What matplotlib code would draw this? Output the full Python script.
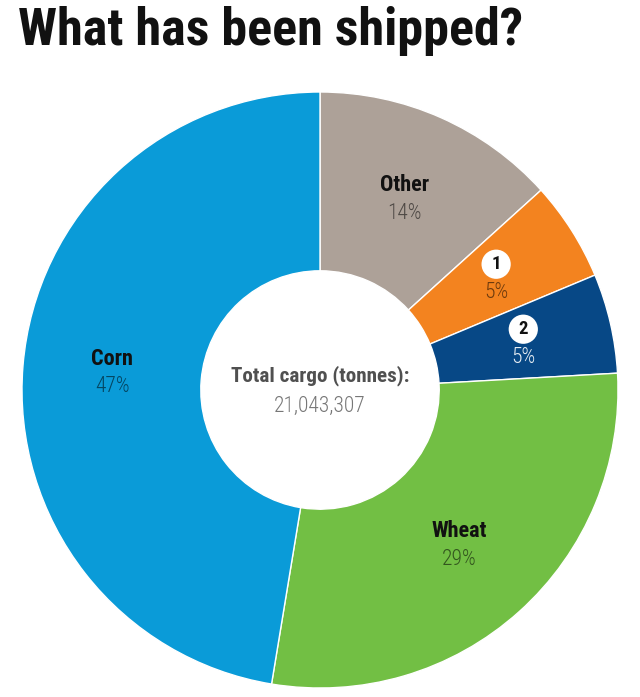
import numpy as np
import matplotlib
matplotlib.use("Agg")
import matplotlib.pyplot as plt
from matplotlib import font_manager

# ---- data ----
categories = ["Other", "1", "2", "Wheat", "Corn"]
shares = [13.3, 5.4, 5.4, 28.5, 47.4]          # percent of total cargo
pct_labels = ["14%", "5%", "5%", "29%", "47%"]
colors = ["#ada198", "#f3831f", "#074886", "#72bf44", "#0a9bd8"]
total_label = "Total cargo (tonnes):"
total_value = "21,043,307"
title = "What has been shipped?"

# ---- fonts ----
available = {f.name for f in font_manager.fontManager.ttflist}
cands = [f for f in ["Roboto Condensed", "Liberation Sans Narrow", "Roboto", "DejaVu Sans"] if f in available]
FONT = cands[0]
plt.rcParams["font.family"] = [FONT, "DejaVu Sans"]

W, H = 640, 697
fig = plt.figure(figsize=(W / 100, H / 100), dpi=100)

cx, cy, R = 320, 390, 298
ax = fig.add_axes([(cx - R) / W, (H - cy - R) / H, 2 * R / W, 2 * R / H])
wedges, _ = ax.pie(shares, colors=colors, startangle=90, counterclock=False,
                   radius=1.0, wedgeprops=dict(width=0.6, edgecolor="white", linewidth=1.0))
ax.set_xlim(-1, 1)
ax.set_ylim(-1, 1)
ax.set_aspect("equal")
ax.axis("off")

dy = 14 / R
for w, cat, pct in zip(wedges, categories, pct_labels):
    mid = np.deg2rad((w.theta1 + w.theta2) / 2)
    x, y = 0.70 * np.cos(mid), 0.70 * np.sin(mid)
    pct_color = (1, 1, 1, 0.9) if cat == "2" else (0, 0, 0, 0.55)
    if cat in ("1", "2"):
        ax.text(x, y + dy, cat, ha="center", va="center", fontsize=13.5, fontweight="bold",
                color="#111111",
                bbox=dict(boxstyle="circle,pad=0.3", fc="white", ec="none"))
    else:
        ax.text(x, y + dy, cat, ha="center", va="center", fontsize=16, fontweight="bold",
                color="#111111")
    ax.text(x, y - dy, pct, ha="center", va="center", fontsize=15.5, fontweight="light",
            color=pct_color)

ax.text(0, 14 / R, total_label, ha="center", va="center", fontsize=15.2, fontweight="bold",
        color="#505050")
ax.text(0, -16 / R, total_value, ha="center", va="center", fontsize=15.5, fontweight="light",
        color="#777777")

fig.text(18 / W, (H - 45) / H, title, ha="left", va="baseline", fontsize=37.5,
         fontweight="heavy", color="#111111")

fig.savefig("out.png", dpi=100, facecolor="white")
